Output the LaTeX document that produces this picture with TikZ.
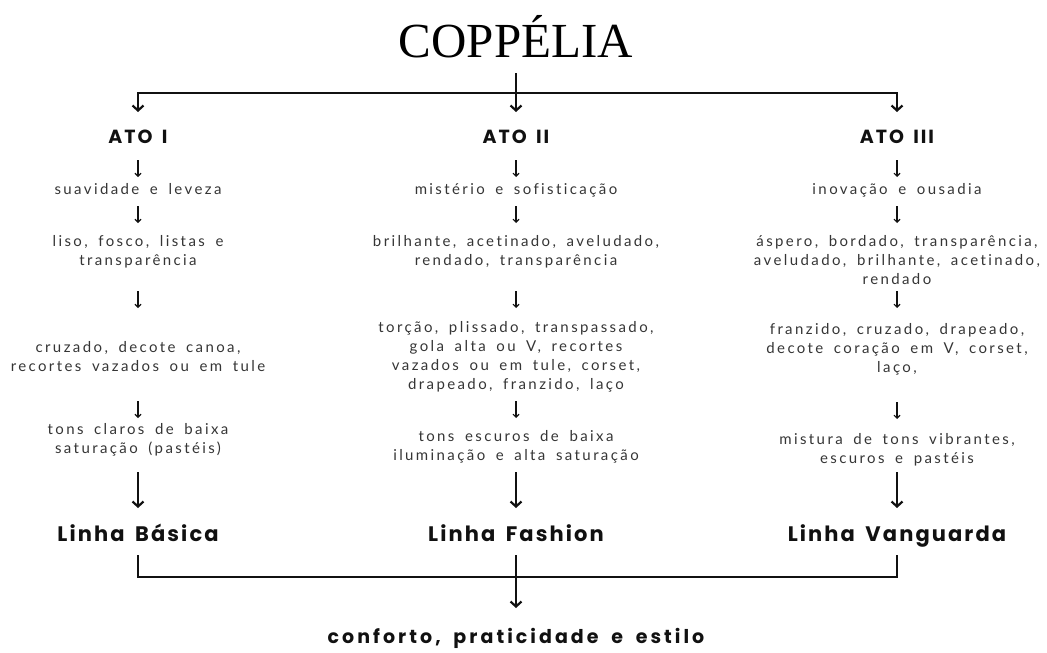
\documentclass[tikz,border=0pt]{standalone}
\usepackage{fontspec}
\setmainfont{Lato}
\newfontfamily\titlefont{Liberation Serif}
\newfontfamily\headfont{Poppins}[LetterSpace=10,WordSpace=1.6,Ligatures=NoCommon]
\newfontfamily\endfont{Poppins}[LetterSpace=16,WordSpace=1.8,Ligatures=NoCommon]
\newfontfamily\bodyfont{Lato}[LetterSpace=16,WordSpace=1.7,Ligatures=NoCommon]
\usetikzlibrary{arrows.meta}
\definecolor{bodygray}{HTML}{353535}
\definecolor{inkblack}{HTML}{111111}
\tikzset{
  body/.style={font=\bodyfont\fontsize{15}{19}\selectfont, text=bodygray, align=center, anchor=base, inner sep=0pt},
  atohead/.style={font=\headfont\bfseries\fontsize{19}{22}\selectfont, text=inkblack, anchor=base, inner sep=0pt},
  linhahead/.style={font=\headfont\bfseries\fontsize{21}{24}\selectfont, text=inkblack, anchor=base, inner sep=0pt},
  endhead/.style={font=\endfont\bfseries\fontsize{19}{22}\selectfont, text=inkblack, anchor=base, inner sep=0pt},
  sarr/.style={line width=1.1pt, draw=inkblack, -{Straight Barb[length=3pt,width=6pt]}},
  barr/.style={line width=2.2pt, draw=inkblack, -{Straight Barb[length=5pt,width=11pt]}},
  bline/.style={line width=2pt, draw=inkblack},
}
\newcommand\smallarrow[3]{%
  \coordinate (#1a) at (#2,#3);
  \coordinate (#1b) at (#2,#3+17);
  \draw[sarr] (#1a) -- (#1b);}
\begin{document}
\begin{tikzpicture}[x=1pt,y=-1pt]
\useasboundingbox (0,0) rectangle (1047,653);

% title
\node[anchor=base, inner sep=0pt, font=\titlefont\fontsize{49}{52}\selectfont, text=black] (title) at (516,57) {COPPÉLIA};

% top bracket
\coordinate (tc) at (516,73);
\coordinate (tm) at (516,93);
\coordinate (t1) at (138,112);
\coordinate (t2) at (516,112);
\coordinate (t3) at (897,112);
\draw[barr] (tm) -| (t1);
\draw[barr] (tm) -| (t3);
\draw[barr] (tc) -- (t2);

% column 1 (multi-line nodes: base = last line)
\node[atohead] (ato1) at (138,143) {ATO I};
\smallarrow{c1r1}{138}{160}
\node[body] (c1a) at (138,194) {suavidade e leveza};
\smallarrow{c1r2}{138}{206}
\node[body] (c1b) at (138,265) {liso, fosco, listas e\\transparência};
\smallarrow{c1r3}{138}{291}
\node[body] (c1c) at (138,371) {cruzado, decote canoa,\\recortes vazados ou em tule};
\smallarrow{c1r4}{138}{401}
\node[body] (c1d) at (138,453) {tons claros de baixa\\saturação (pastéis)};
\coordinate (c1s) at (138,472);
\coordinate (c1e) at (138,508);
\draw[barr] (c1s) -- (c1e);
\node[linhahead] (l1) at (138,541) {Linha Básica};

% column 2
\node[atohead] (ato2) at (516,143) {ATO II};
\smallarrow{c2r1}{516}{160}
\node[body] (c2a) at (516,194) {mistério e sofisticação};
\smallarrow{c2r2}{516}{206}
\node[body] (c2b) at (516,265) {brilhante, acetinado, aveludado,\\rendado, transparência};
\smallarrow{c2r3}{516}{291}
\node[body] (c2c) at (516,389) {torção, plissado, transpassado,\\gola alta ou V, recortes\\vazados ou em tule, corset,\\drapeado, franzido, laço};
\smallarrow{c2r4}{516}{401}
\node[body] (c2d) at (516,460) {tons escuros de baixa\\iluminação e alta saturação};
\coordinate (c2s) at (516,472);
\coordinate (c2e) at (516,508);
\draw[barr] (c2s) -- (c2e);
\node[linhahead] (l2) at (516,541) {Linha Fashion};

% column 3
\node[atohead] (ato3) at (897,143) {ATO III};
\smallarrow{c3r1}{897}{160}
\node[body] (c3a) at (897,194) {inovação e ousadia};
\smallarrow{c3r2}{897}{206}
\node[body] (c3b) at (897,284) {áspero, bordado, transparência,\\aveludado, brilhante, acetinado,\\rendado};
\smallarrow{c3r3}{897}{291}
\node[body] (c3c) at (897,372) {franzido, cruzado, drapeado,\\decote coração em V, corset,\\laço,};
\smallarrow{c3r4}{897}{402}
\node[body] (c3d) at (897,463) {mistura de tons vibrantes,\\escuros e pastéis};
\coordinate (c3s) at (897,472);
\coordinate (c3e) at (897,508);
\draw[barr] (c3s) -- (c3e);
\node[linhahead] (l3) at (897,541) {Linha Vanguarda};

% bottom bracket
\coordinate (b1) at (138,555);
\coordinate (b3) at (897,555);
\coordinate (b1d) at (138,577);
\coordinate (b3d) at (897,577);
\coordinate (b2) at (516,555);
\coordinate (b2e) at (516,608);
\draw[bline] (b1) -- (b1d) -- (b3d) -- (b3);
\draw[barr] (b2) -- (b2e);

\node[endhead] (fim) at (516,643) {conforto, praticidade e estilo};
\end{tikzpicture}
\end{document}
